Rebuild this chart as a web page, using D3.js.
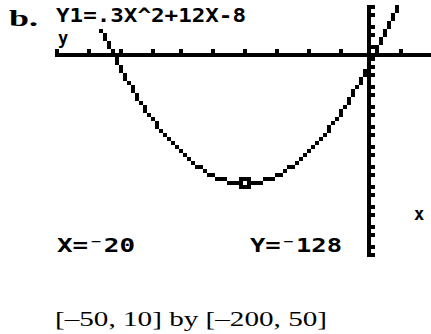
<!DOCTYPE html>
<html>
<head>
<meta charset="utf-8">
<script src="https://cdn.jsdelivr.net/npm/d3@7"></script>
<style>
  body { margin: 0; background: #fff; }
  text.calc { font-family: "DejaVu Sans Mono", monospace; font-weight: bold; fill: #000; }
</style>
</head>
<body>
<div id="chart"></div>
<script>
let width = 431,
    height = 334;

// window settings and the graphed function Y1 = a X^2 + b X + c
const coefs = [0.3, 12, -8];
const xWindow = [-50, 10],
      yWindow = [-200, 50];
const xScl = 5,
      yScl = 10;
const traceX = -20,
      traceY = -128;
const equation = "Y1=.3X^2+12X-8";
const traceLabels = ["X=⁻20", "Y=⁻128"];
const windowLabel = "[–50, 10] by [–200, 50]";

// calculator screen is 95 x 63 pixels, each drawn as a 4px square
const cols = 95, rows = 63, px = 4;
const screen = { left: 55, top: 5 };

const svg = d3.select("#chart")
  .append("svg")
  .attr("width", width)
  .attr("height", height);

let col = d3.scaleLinear().domain(xWindow).range([0, cols - 1]);
let row = d3.scaleLinear().domain(yWindow).range([rows - 1, 0]);
let sx = d3.scaleLinear().domain([0, cols]).range([screen.left, screen.left + cols * px]);
let sy = d3.scaleLinear().domain([0, rows]).range([screen.top, screen.top + rows * px]);

let f = x => coefs[0] * x * x + coefs[1] * x + coefs[2];

let pixels = new Map();
let on = (c, r) => { if (c >= 0 && c < cols && r >= 0 && r < rows) pixels.set(c + "," + r, [c, r]); };
let off = (c, r) => pixels.delete(c + "," + r);

// axes
let r0 = Math.round(row(0)), c0 = Math.round(col(0));
for (let c = 0; c < cols; c++) on(c, r0);
for (let r = 0; r < rows; r++) on(c0, r);
for (let x of d3.range(xWindow[0], xWindow[1] + 1e-9, xScl)) on(Math.round(col(x)), r0 - 1);
for (let y of d3.range(yWindow[0], yWindow[1] + 1e-9, yScl)) on(c0 + 1, Math.round(row(y)));

// curve, connected mode
let pts = d3.range(cols).map(c => [c, Math.round(row(f(col.invert(c))))]);
for (let i = 0; i < pts.length; i++) {
  let [c, r] = pts[i];
  let next = pts[i + 1];
  if (!next) { on(c, r); continue; }
  let r2 = next[1];
  let lo = Math.max(-1, Math.min(r, r2)), hi = Math.min(rows, Math.max(r, r2));
  for (let rr = lo; rr <= hi; rr++) {
    if (Math.abs(rr - r) <= Math.abs(rr - r2)) on(c, rr);
    else on(c + 1, rr);
  }
  on(c, r);
}

// the equation line at the top clears the pixels behind it
for (let c = 0; c < 48; c++)
  for (let r = 0; r < 6; r++) off(c, r);

// trace cursor
let ct = Math.round(col(traceX)), rt = Math.round(row(traceY));
for (let dc = -1; dc <= 1; dc++)
  for (let dr = -1; dr <= 1; dr++) on(ct + dc, rt + dr);
off(ct, rt);

svg.append("g")
  .attr("shape-rendering", "crispEdges")
  .selectAll("rect")
  .data([...pixels.values()])
  .join("rect")
  .attr("x", d => sx(d[0]))
  .attr("y", d => sy(d[1]))
  .attr("width", px)
  .attr("height", px)
  .attr("fill", "#000");

// calculator text
svg.append("text").attr("class", "calc")
  .attr("x", 56).attr("y", 22)
  .attr("font-size", 20)
  .attr("textLength", 190).attr("lengthAdjust", "spacingAndGlyphs")
  .text(equation);

svg.append("text").attr("class", "calc")
  .attr("x", 58).attr("y", 44)
  .attr("font-size", 17)
  .text("y");

svg.append("text").attr("class", "calc")
  .attr("x", 414).attr("y", 220)
  .attr("font-size", 17)
  .text("x");

svg.append("text").attr("class", "calc")
  .attr("x", 57).attr("y", 252)
  .attr("font-size", 20)
  .attr("textLength", 78).attr("lengthAdjust", "spacingAndGlyphs")
  .text(traceLabels[0]);

svg.append("text").attr("class", "calc")
  .attr("x", 250).attr("y", 252)
  .attr("font-size", 20)
  .attr("textLength", 92).attr("lengthAdjust", "spacingAndGlyphs")
  .text(traceLabels[1]);

// page text
svg.append("text")
  .attr("x", 9).attr("y", 26)
  .attr("font-family", "Liberation Serif, Times New Roman, serif")
  .attr("font-weight", "bold")
  .attr("font-size", 23)
  .attr("textLength", 29).attr("lengthAdjust", "spacingAndGlyphs")
  .text("b.");

svg.append("text")
  .attr("x", 55).attr("y", 326)
  .attr("font-family", "Liberation Serif, Times New Roman, serif")
  .attr("font-size", 22)
  .attr("textLength", 272).attr("lengthAdjust", "spacingAndGlyphs")
  .text(windowLabel);
</script>
</body>
</html>
